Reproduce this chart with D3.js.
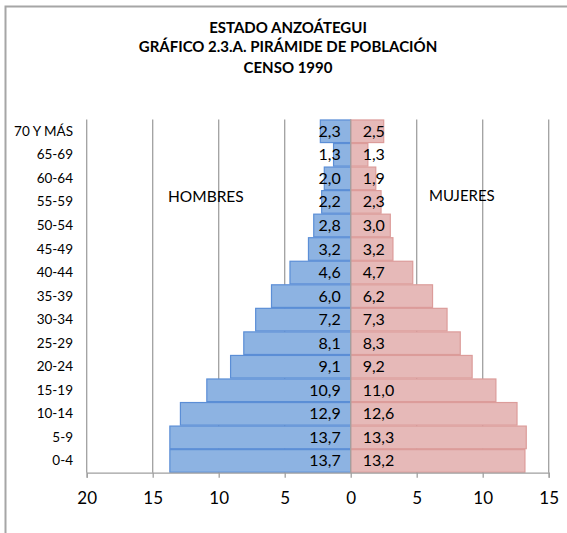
<!DOCTYPE html>
<html><head><meta charset="utf-8">
<script src="https://cdn.jsdelivr.net/npm/d3@7"></script>
<style>body{margin:0;background:#fff}svg{display:block}</style>
</head><body>
<script>
const categories = ["70 Y MÁS","65-69","60-64","55-59","50-54","45-49","40-44","35-39","30-34","25-29","20-24","15-19","10-14","5-9","0-4"];
const hombres = [2.3,1.3,2.0,2.2,2.8,3.2,4.6,6.0,7.2,8.1,9.1,10.9,12.9,13.7,13.7];
const mujeres = [2.5,1.3,1.9,2.3,3.0,3.2,4.7,6.2,7.3,8.3,9.2,11.0,12.6,13.3,13.2];
const tickValues = [-20,-15,-10,-5,0,5,10,15];
const titleLines = ["ESTADO ANZOÁTEGUI","GRÁFICO 2.3.A. PIRÁMIDE DE POBLACIÓN","CENSO 1990"];

const W=567,H=533;
const font="Lato, 'Open Sans', sans-serif";
const svg=d3.select("body").append("svg").attr("width",W).attr("height",H);
svg.append("rect").attr("width",W).attr("height",H).attr("fill","#fff");
// border
svg.append("path").attr("d",`M5.5,${H}V6.5H${W}`).attr("fill","none").attr("stroke","#a6a6a6").attr("stroke-width",2);

const plotTop=119.5,plotBottom=472.7;
const x=d3.scaleLinear().domain([-20,15]).range([86.7,548.7]);
const y=d3.scaleBand().domain(categories).range([plotTop,plotBottom]).paddingInner(0.04).paddingOuter(0.02);
const fmt=v=>d3.format(".1f")(v).replace(".",",");

// title
svg.append("g").selectAll("text").data(titleLines).join("text")
 .attr("x",288).attr("y",(d,i)=>[33,52,73][i]).attr("text-anchor","middle")
 .attr("font-family",font).attr("font-weight","bold").attr("font-size",15).attr("fill","#000").text(d=>d);

// gridlines
svg.append("g").selectAll("line").data(tickValues.filter(v=>v!==0)).join("line")
 .attr("x1",d=>x(d)).attr("x2",d=>x(d)).attr("y1",plotTop).attr("y2",plotBottom)
 .attr("stroke","#a0a0a0").attr("stroke-width",1.3);

// bars
svg.append("g").selectAll("rect").data(hombres).join("rect")
 .attr("x",d=>x(-d)).attr("width",d=>x(0)-x(-d)).attr("y",(d,i)=>y(categories[i])).attr("height",y.bandwidth())
 .attr("fill","#8db3e2").attr("stroke","#5b8ed6").attr("stroke-width",1.2);
svg.append("g").selectAll("rect").data(mujeres).join("rect")
 .attr("x",x(0)).attr("width",d=>x(d)-x(0)).attr("y",(d,i)=>y(categories[i])).attr("height",y.bandwidth())
 .attr("fill","#e6b9b8").attr("stroke","#dc9c9a").attr("stroke-width",1.2);

// center axis
svg.append("line").attr("x1",x(0)).attr("x2",x(0)).attr("y1",plotTop).attr("y2",plotBottom).attr("stroke","#a0a0a0").attr("stroke-width",1.3);

// x axis
const ax=svg.append("g").attr("transform",`translate(0,${plotBottom})`)
 .call(d3.axisBottom(x).tickValues(tickValues).tickFormat(d=>Math.abs(d)).tickSize(5).tickPadding(14));
ax.select(".domain").attr("stroke","#a0a0a0").attr("stroke-width",1.3);
ax.selectAll(".tick line").attr("stroke","#a0a0a0").attr("stroke-width",1.3);
ax.selectAll(".tick text").attr("font-family",font).attr("font-size",17).attr("fill","#000");

// category labels
svg.append("g").selectAll("text").data(categories).join("text")
 .attr("x",73).attr("y",d=>y(d)+y.bandwidth()/2+4.5).attr("text-anchor","end")
 .attr("font-family",font).attr("font-size",13.5).attr("fill","#000").text(d=>d);

// data labels
svg.append("g").selectAll("text").data(hombres).join("text")
 .attr("x",x(0)-10).attr("y",(d,i)=>y(categories[i])+y.bandwidth()/2+5.5).attr("text-anchor","end")
 .attr("font-family",font).attr("font-size",16).attr("fill","#000").text(d=>fmt(d));
svg.append("g").selectAll("text").data(mujeres).join("text")
 .attr("x",x(0)+12).attr("y",(d,i)=>y(categories[i])+y.bandwidth()/2+5.5).attr("text-anchor","start")
 .attr("font-family",font).attr("font-size",16).attr("fill","#000").text(d=>fmt(d));

// series labels
svg.append("text").attr("x",168).attr("y",202).attr("font-family",font).attr("font-size",15.5).attr("fill","#000").text("HOMBRES");
svg.append("text").attr("x",429).attr("y",201).attr("font-family",font).attr("font-size",15).attr("fill","#000").text("MUJERES");
</script>
</body></html>
